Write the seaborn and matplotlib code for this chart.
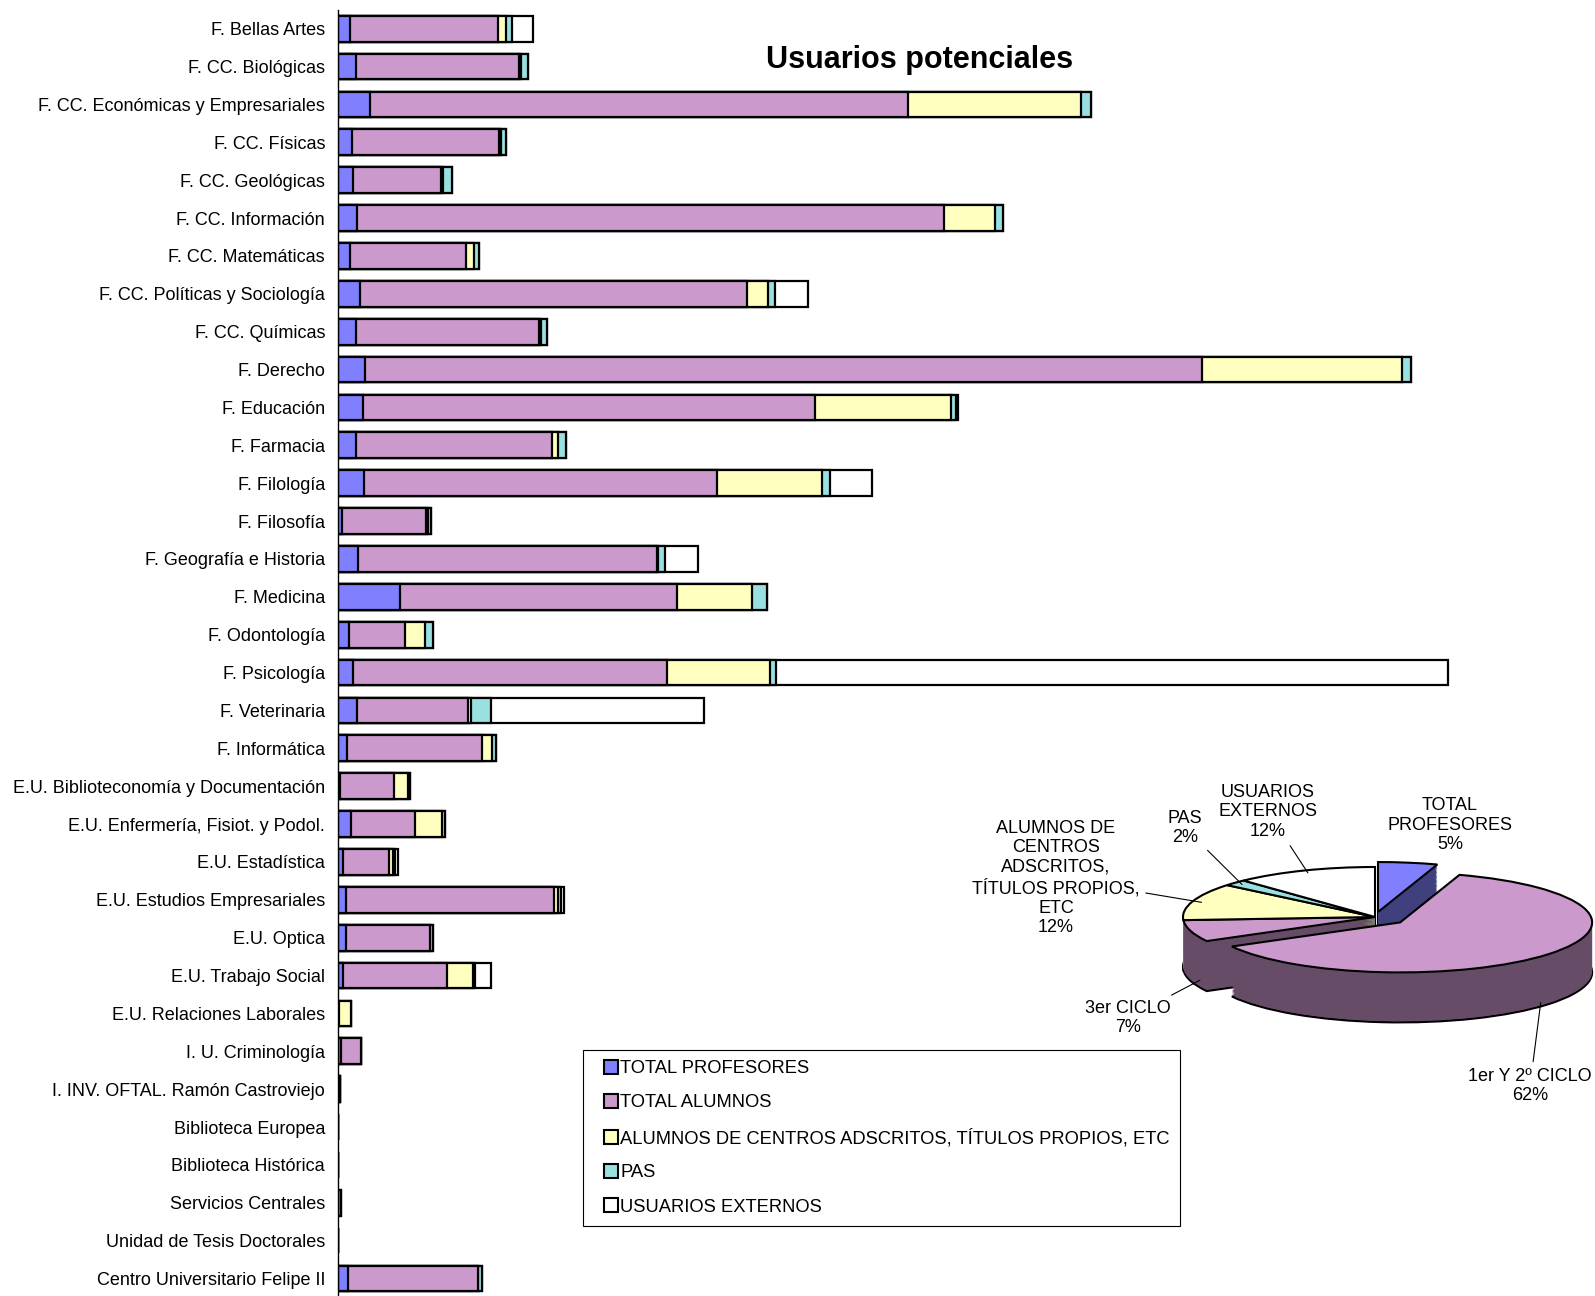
import numpy as np
import pandas as pd
import matplotlib
matplotlib.use('Agg')
import matplotlib.pyplot as plt
from matplotlib.lines import Line2D
import seaborn as sns


# Values (no axis scale in the original, so units are relative)
centros = ['F. Bellas Artes', 'F. CC. Biológicas', 'F. CC. Económicas y Empresariales',
           'F. CC. Físicas', 'F. CC. Geológicas', 'F. CC. Información', 'F. CC. Matemáticas',
           'F. CC. Políticas y Sociología', 'F. CC. Químicas', 'F. Derecho', 'F. Educación',
           'F. Farmacia', 'F. Filología', 'F. Filosofía', 'F. Geografía e Historia',
           'F. Medicina', 'F. Odontología', 'F. Psicología', 'F. Veterinaria', 'F. Informática',
           'E.U. Biblioteconomía y Documentación', 'E.U. Enfermería, Fisiot. y Podol.',
           'E.U. Estadística', 'E.U. Estudios Empresariales', 'E.U. Optica',
           'E.U. Trabajo Social', 'E.U. Relaciones Laborales', 'I. U. Criminología',
           'I. INV. OFTAL. Ramón Castroviejo', 'Biblioteca Europea', 'Biblioteca Histórica',
           'Servicios Centrales', 'Unidad de Tesis Doctorales', 'Centro Universitario Felipe II']

profesores = [120, 180, 320, 140, 150, 190, 120, 220, 180, 270, 250, 180, 260, 40, 200,
              620, 110, 150, 190, 90, 20, 130, 50, 80, 80, 50, 0, 30, 10, 0, 0, 0, 0, 100]
alumnos = [1480, 1630, 5380, 1470, 880, 5870, 1160, 3870, 1830, 8370, 4520, 1960, 3530, 840,
           2990, 2770, 560, 3140, 1110, 1350, 540, 640, 460, 2080, 840, 1040, 10, 200, 10,
           0, 0, 0, 0, 1300]
adscritos = [80, 20, 1730, 20, 20, 510, 80, 210, 20, 2000, 1360, 60, 1050, 20, 10, 750, 200,
             1030, 30, 100, 140, 270, 40, 40, 0, 260, 120, 0, 0, 0, 0, 0, 0, 0]
pas = [60, 70, 100, 50, 90, 80, 50, 70, 60, 90, 50, 80, 80, 30, 70, 150, 80, 60, 200, 40,
       20, 30, 20, 30, 30, 20, 0, 0, 0, 0, 0, 30, 0, 40]
externos = [210, 0, 0, 0, 0, 0, 0, 330, 0, 0, 20, 0, 420, 0, 330, 0, 0, 6720, 2130, 0, 0, 0,
            30, 30, 0, 160, 0, 0, 0, 0, 0, 0, 0, 0]

series = ['TOTAL PROFESORES', 'TOTAL ALUMNOS',
          'ALUMNOS DE CENTROS ADSCRITOS, TÍTULOS PROPIOS, ETC', 'PAS', 'USUARIOS EXTERNOS']
bar_colors = ['#8080FF', '#CC99CC', '#FFFFC0', '#99E0E0', '#FFFFFF']

pie_labels = ['TOTAL\nPROFESORES', '1er Y 2º CICLO', '3er CICLO',
              'ALUMNOS DE\nCENTROS\nADSCRITOS,\nTÍTULOS PROPIOS,\nETC', 'PAS',
              'USUARIOS\nEXTERNOS']
pie_pct = [5, 62, 7, 12, 2, 12]
pie_colors = ['#8080FF', '#CC99CC', '#CC99CC', '#FFFFC0', '#99E0E0', '#FFFFFF']
side_colors = ['#40407F', '#664C66', '#664C66', '#80805F', '#4C7070', '#808080']
pie_explode = [0.10, 0.17, 0, 0, 0, 0]

sns.set_style('white')
plt.rcParams['font.family'] = ['Liberation Sans', 'DejaVu Sans']
plt.rcParams['text.color'] = 'black'
plt.rcParams['ytick.color'] = 'black'

df = pd.DataFrame({'centro': centros, 'p': profesores, 'a': alumnos, 'ad': adscritos,
                   'pas': pas, 'ext': externos})
# cumulative sums for stacking (draw longest first, shorter on top)
df['s1'] = df['p']
df['s2'] = df['s1'] + df['a']
df['s3'] = df['s2'] + df['ad']
df['s4'] = df['s3'] + df['pas']
df['s5'] = df['s4'] + df['ext']

W, H = 1595, 1296
fig = plt.figure(figsize=(W / 100, H / 100), dpi=100)
ax = fig.add_axes([338 / W, -0.0011, 1 - 338 / W, 0.99354])

for col, c in zip(['s5', 's4', 's3', 's2', 's1'], bar_colors[::-1]):
    sns.barplot(data=df, x=col, y='centro', color=c, orient='h', width=0.68,
                saturation=1, edgecolor='black', linewidth=1.6, errorbar=None, ax=ax)

ax.set_xlim(0, 12570)
ax.set_ylim(len(centros) - 0.5, -0.5)
ax.set_xlabel('')
ax.set_ylabel('')
ax.set_xticks([])
sns.despine(ax=ax, top=True, right=True, bottom=True, left=False)
ax.spines['left'].set_color('black')
ax.spines['left'].set_linewidth(1.0)
ax.set_yticks(np.arange(-0.5, len(centros)), minor=True)
ax.tick_params(axis='y', which='major', length=0, pad=9.3, labelsize=13,
               labelcolor='black')
ax.tick_params(axis='y', which='minor', length=3.6, width=1, color='black', direction='out')
ax.patch.set_alpha(0)

fig.text(920 / W, 1 - 60 / H, 'Usuarios potenciales', ha='center', va='center',
         fontsize=22, fontweight='bold')

# legend
handles = [Line2D([], [], marker='s', linestyle='none', markersize=10,
                  markerfacecolor=c, markeredgecolor='black', markeredgewidth=1.5)
           for c in bar_colors]
leg = fig.legend(handles, series, loc='upper left', bbox_to_anchor=(583 / W, 1 - 1050 / H),
                 fontsize=13.2, frameon=True, fancybox=False, framealpha=1,
                 edgecolor='black', borderpad=0.55, labelspacing=0.94,
                 handlelength=1.9, handletextpad=-0.42, borderaxespad=0)
leg.get_frame().set_linewidth(0.8)

# 3D-looking pie: stacked darker layers for the sides, then the top face
pax = fig.add_axes([1100 / W, 1 - 1050 / H, 495 / W, 230 / H])
depth = 1.0
for i, d in enumerate(np.linspace(-depth, 0, 40)):
    if i == 0:
        wp = dict(edgecolor='black', linewidth=1.5)
    else:
        wp = dict(linewidth=0)
    pax.pie(pie_pct, colors=side_colors, explode=pie_explode, startangle=90,
            counterclock=False, center=(0, d), wedgeprops=wp)
pax.pie(pie_pct, colors=pie_colors, explode=pie_explode, startangle=90,
        counterclock=False, center=(0, 0), wedgeprops=dict(edgecolor='black', linewidth=1.5))
pax.set_aspect('auto')
pax.set_xlim((1100 - 1375) / 192, (1595 - 1375) / 192)
pax.set_ylim(-(1050 - 917) / 50, (917 - 820) / 50)
pax.axis('off')

pct = np.array(pie_pct, dtype=float)
cum = np.concatenate([[0], np.cumsum(pct)[:-1]])
mids = np.deg2rad(90 - 3.6 * (cum + pct / 2))
text_pos = [(1450, 825), (1530, 1086), (1128, 1018), (1056, 878), (1185, 828), (1268, 812)]
for i, lab in enumerate(pie_labels):
    ex = pie_explode[i] * np.cos(mids[i])
    ey = pie_explode[i] * np.sin(mids[i])
    px = ex + 0.95 * np.cos(mids[i])
    py = ey + 0.95 * np.sin(mids[i])
    if np.sin(mids[i]) < 0:
        py -= depth
    tx, ty = text_pos[i]
    props = None
    if i != 0:
        props = dict(arrowstyle='-', color='black', lw=0.8, shrinkA=2, shrinkB=0)
    pax.annotate(f'{lab}\n{pie_pct[i]}%', xy=(px, py), xycoords='data',
                 xytext=(tx, H - ty), textcoords='figure pixels', ha='center', va='center',
                 fontsize=13, linespacing=1.2, arrowprops=props)

fig.savefig('out.png', dpi=100)
